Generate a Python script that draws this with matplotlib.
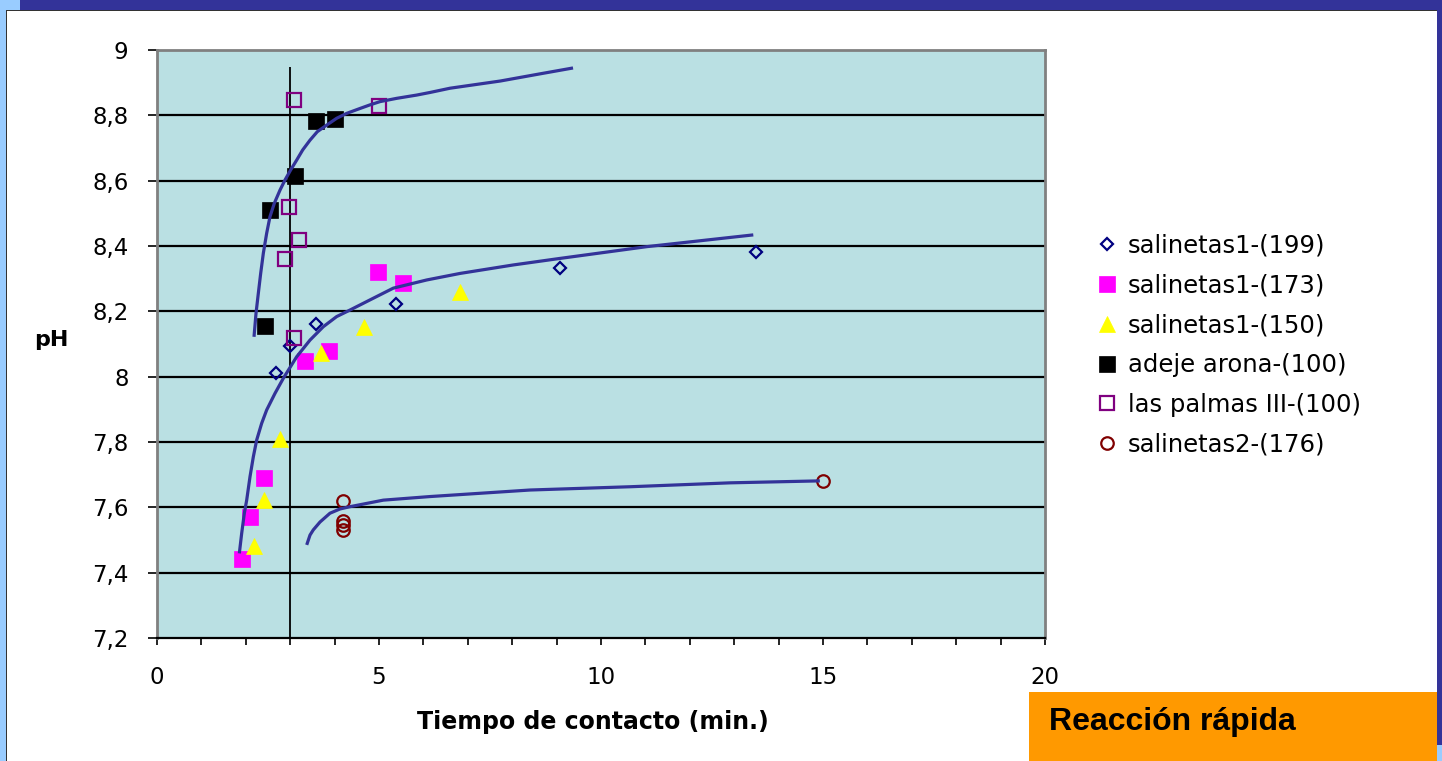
import numpy as np
import matplotlib.pyplot as plt
import matplotlib.patches as patches
from matplotlib.ticker import MultipleLocator, FuncFormatter

# datos (tiempo en min, pH)
s199_t = [2.68, 3.00, 3.58, 5.38, 9.08, 13.49]
s199_ph = [8.01, 8.094, 8.161, 8.222, 8.333, 8.382]

s173_t = [1.91, 2.09, 2.41, 3.33, 3.87, 4.98, 5.54]
s173_ph = [7.442, 7.57, 7.69, 8.048, 8.079, 8.32, 8.287]

s150_t = [2.18, 2.40, 2.76, 3.69, 4.67, 6.83]
s150_ph = [7.482, 7.622, 7.808, 8.072, 8.151, 8.26]

adeje_t = [2.43, 2.55, 3.11, 3.57, 4.02]
adeje_ph = [8.156, 8.509, 8.615, 8.782, 8.788]

palmas_t = [3.09, 5.01, 2.98, 3.20, 2.89, 3.09]
palmas_ph = [8.847, 8.828, 8.518, 8.418, 8.359, 8.119]

s176_t = [4.2, 4.2, 4.2, 4.2, 15.0]
s176_ph = [7.62, 7.558, 7.546, 7.531, 7.681]

# curvas de tendencia (trazadas a mano en el original)
curva1_t = [2.185, 2.230, 2.282, 2.335, 2.395, 2.470, 2.545, 2.643, 2.770, 2.883,
            3.011, 3.146, 3.281, 3.446, 3.611, 3.821, 4.047, 4.272, 4.572, 4.797,
            5.023, 5.398, 5.848, 6.149, 6.60, 7.73, 8.627, 9.37]
curva1_ph = [8.122, 8.194, 8.255, 8.316, 8.378, 8.439, 8.490, 8.531, 8.571, 8.602,
             8.633, 8.663, 8.694, 8.724, 8.750, 8.770, 8.791, 8.806, 8.821, 8.832,
             8.842, 8.852, 8.862, 8.870, 8.883, 8.905, 8.927, 8.945]

curva2_t = [1.854, 1.907, 1.967, 2.020, 2.095, 2.170, 2.245, 2.357, 2.470, 2.658,
            2.845, 3.146, 3.446, 3.746, 4.047, 4.347, 4.797, 5.322, 6.074, 6.824,
            8.025, 9.077, 11.03, 13.43]
curva2_ph = [7.459, 7.520, 7.582, 7.622, 7.694, 7.755, 7.806, 7.857, 7.898, 7.949,
             7.995, 8.061, 8.112, 8.153, 8.184, 8.204, 8.235, 8.271, 8.296, 8.316,
             8.342, 8.362, 8.398, 8.434]

curva3_t = [3.372, 3.446, 3.52, 3.671, 3.896, 4.122, 4.347, 5.097, 6.149, 8.40,
            10.65, 12.91, 14.93]
curva3_ph = [7.485, 7.515, 7.531, 7.555, 7.582, 7.595, 7.602, 7.622, 7.633, 7.653,
             7.663, 7.675, 7.681]

W, H = 1442, 761
fig = plt.figure(figsize=(W / 100, H / 100), dpi=100)
fig.patch.set_facecolor('white')

def rect(x0, y0, x1, y1, color):
    # rectangulo en pixeles (origen arriba a la izquierda)
    fig.patches.append(patches.Rectangle((x0 / W, 1 - y1 / H), (x1 - x0) / W, (y1 - y0) / H,
                                         transform=fig.transFigure, facecolor=color,
                                         edgecolor='none', zorder=0))

# marco de la diapositiva
rect(0, 0, 7, H, '#99CCFF')
rect(0, 0, 20, 10, '#99CCFF')
rect(20, 0, W, 10, '#333399')
rect(1437, 0, W, 745, '#333399')
rect(1437, 745, W, H, '#99CCFF')
rect(6, 10, 7.5, H, '#333333')
rect(7, 10, 1437, 11, '#333333')
rect(1029, 692, 1437, H, '#FF9900')

ax = fig.add_axes([157 / W, 1 - 638 / H, (1045 - 157) / W, (638 - 50) / H])
ax.set_facecolor('#BAE0E3')
ax.set_xlim(0, 20)
ax.set_ylim(7.2, 9)

for yv in np.arange(7.4, 8.81, 0.2):
    ax.axhline(yv, color='black', lw=1.6, zorder=1)
ax.vlines(3, 7.2, 8.948, color='black', lw=1.3, zorder=1)

ax.plot(s199_t, s199_ph, ls='none', marker='D', ms=6.5, mfc='none', mec='#000080',
        mew=1.6, label='salinetas1-(199)', zorder=3)
ax.plot(s173_t, s173_ph, ls='none', marker='s', ms=11.5, mfc='#FF00FF', mec='#FF00FF',
        mew=0.5, label='salinetas1-(173)', zorder=3)
ax.plot(s150_t, s150_ph, ls='none', marker='^', ms=11, mfc='#FFFF00', mec='#FFFF00',
        mew=0.5, label='salinetas1-(150)', zorder=3)
ax.plot(adeje_t, adeje_ph, ls='none', marker='s', ms=11.5, mfc='black', mec='black',
        mew=0.5, label='adeje arona-(100)', zorder=3)
ax.plot(palmas_t, palmas_ph, ls='none', marker='s', ms=10.5, mfc='none', mec='#800080',
        mew=1.6, label='las palmas III-(100)', zorder=3)
ax.plot(s176_t, s176_ph, ls='none', marker='o', ms=9, mfc='none', mec='#800000',
        mew=1.6, label='salinetas2-(176)', zorder=3)

for ct, cp in [(curva1_t, curva1_ph), (curva2_t, curva2_ph), (curva3_t, curva3_ph)]:
    ax.plot(ct, cp, color='#333399', lw=2.3, zorder=4, solid_capstyle='butt',
            solid_joinstyle='round')

for side in ['left', 'top', 'right']:
    ax.spines[side].set_color('#808080')
    ax.spines[side].set_linewidth(2)
ax.spines['bottom'].set_color('black')
ax.spines['bottom'].set_linewidth(1.6)

ax.yaxis.set_major_locator(MultipleLocator(0.2))
ax.xaxis.set_major_locator(MultipleLocator(5))
ax.xaxis.set_minor_locator(MultipleLocator(1))
ax.yaxis.set_major_formatter(FuncFormatter(lambda v, p: ('%g' % round(v, 1)).replace('.', ',')))
ax.tick_params(axis='y', direction='out', length=6.5, width=1.2, pad=14, labelsize=16.5)
ax.tick_params(axis='x', which='both', direction='out', length=5, width=1.2, pad=15,
               labelsize=16.5)

fig.text(51 / W, 1 - 340 / H, 'pH', fontsize=16, fontweight='bold', ha='center', va='center')
fig.text(593 / W, 1 - 722 / H, 'Tiempo de contacto (min.)', fontsize=17, fontweight='bold',
         ha='center', va='center')
fig.text(1049 / W, 1 - 722 / H, 'Reacción rápida', fontsize=23, fontweight='bold',
         family='Liberation Sans', ha='left', va='center')

fs = 17.5
ax.legend(loc='upper left', bbox_to_anchor=(1097.3 / W, 1 - 233.8 / H),
          bbox_transform=fig.transFigure, frameon=False, fontsize=fs, borderpad=0,
          borderaxespad=0, handlelength=0.8, handletextpad=0.47, labelspacing=0.65,
          markerscale=1.0)

fig.savefig('out.png', dpi=100)
